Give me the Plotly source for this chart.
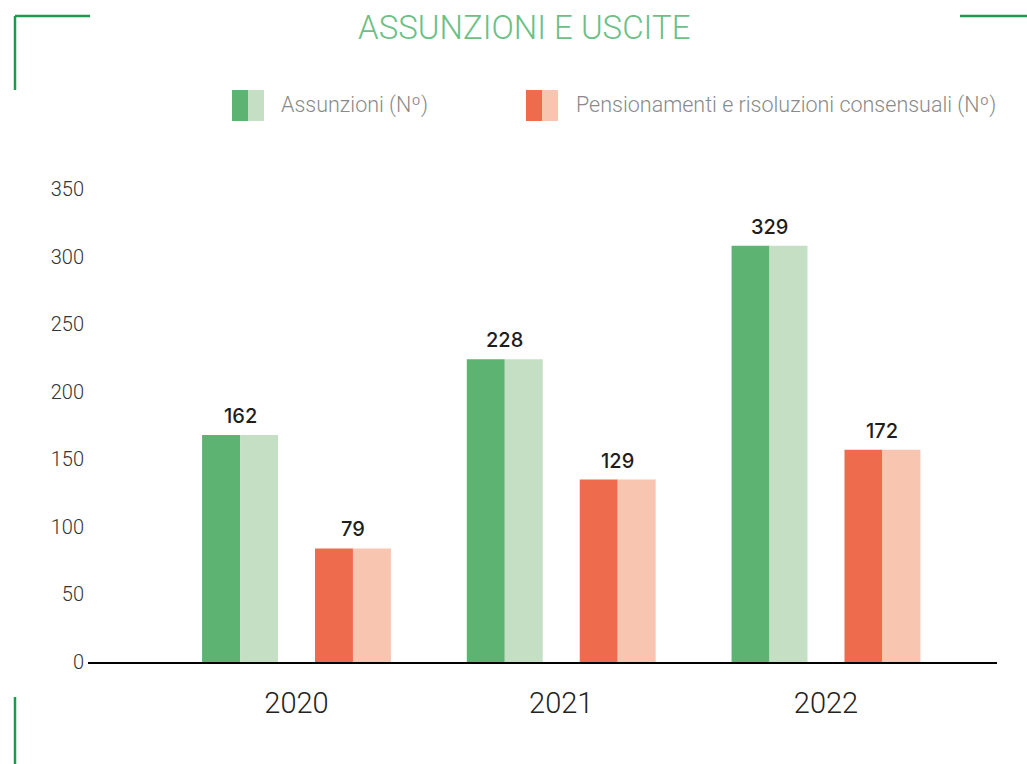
import plotly.graph_objects as go

# ---- data ----
years = ["2020", "2021", "2022"]
assunzioni_heights = [168, 224, 308]
assunzioni_labels = ["162", "228", "329"]
uscite_heights = [84, 135, 157]
uscite_labels = ["79", "129", "172"]
y_ticks = [0, 50, 100, 150, 200, 250, 300, 350]
title_text = "ASSUNZIONI E USCITE"
legend_names = ["Assunzioni (Nº)", "Pensionamenti e risoluzioni consensuali (Nº)"]

# ---- style ----
W, H = 1027, 764
ML, MR, MT, MB = 88, 30, 189, 102
PW, PH = W - ML - MR, H - MT - MB

G_DARK, G_LIGHT = "#5db371", "#c5dfc5"
R_DARK, R_LIGHT = "#ee6c4d", "#f8c5b1"
TITLE_C = "#6cc086"
CORNER_C = "#1f9a4c"
TEXT_FONT = "Roboto"


def px_x(px):
    return (px - ML) / PW


def px_y(py):
    return (H - MB - py) / PH


half_w = 0.1434
G_OFF, R_OFF = -0.3566, 0.0699

fig = go.Figure()
for heights, off, c1, c2, name in [(assunzioni_heights, G_OFF, G_DARK, G_LIGHT, legend_names[0]),
                                   (uscite_heights, R_OFF, R_DARK, R_LIGHT, legend_names[1])]:
    fig.add_trace(go.Bar(x=years, y=heights, width=[half_w] * 3, offset=off,
                         marker=dict(color=c1, line=dict(width=0)),
                         name=name, showlegend=False, hoverinfo="skip"))
    fig.add_trace(go.Bar(x=years, y=heights, width=[half_w] * 3, offset=off + half_w,
                         marker=dict(color=c2, line=dict(width=0)),
                         showlegend=False, hoverinfo="skip"))

annotations = []
# value labels above each pair of bars
for heights, labels, off in [(assunzioni_heights, assunzioni_labels, G_OFF),
                             (uscite_heights, uscite_labels, R_OFF)]:
    for i, (h, lab) in enumerate(zip(heights, labels)):
        annotations.append(dict(text=lab, xref="x", yref="y", x=i + off + half_w, y=h,
                                xanchor="center", yanchor="bottom", yshift=5, showarrow=False,
                                font=dict(family="Inter", size=20, color="#1e1e1e", weight=500)))

shapes = []
# corner decorations
for (x0, y0, x1, y1) in [(15, 16, 90, 16), (15, 16, 15, 90), (960, 16, 1027, 16), (15, 697, 15, 764)]:
    shapes.append(dict(type="line", xref="paper", yref="paper",
                       x0=px_x(x0), y0=px_y(y0), x1=px_x(x1), y1=px_y(y1),
                       line=dict(color=CORNER_C, width=2.5)))
# legend swatches
for (xs, c1, c2) in [(232, G_DARK, G_LIGHT), (526, R_DARK, R_LIGHT)]:
    shapes.append(dict(type="rect", xref="paper", yref="paper", x0=px_x(xs), x1=px_x(xs + 16),
                       y0=px_y(121), y1=px_y(90), fillcolor=c1, line=dict(width=0)))
    shapes.append(dict(type="rect", xref="paper", yref="paper", x0=px_x(xs + 16), x1=px_x(xs + 32),
                       y0=px_y(121), y1=px_y(90), fillcolor=c2, line=dict(width=0)))

annotations += [
    dict(text=title_text, xref="paper", yref="paper", x=px_x(524), y=px_y(28),
         xanchor="center", yanchor="middle", showarrow=False,
         font=dict(family=TEXT_FONT, size=33, color=TITLE_C, weight=300)),
    dict(text=legend_names[0], xref="paper", yref="paper", x=px_x(279), y=px_y(105),
         xanchor="left", yanchor="middle", showarrow=False,
         font=dict(family=TEXT_FONT, size=21.5, color="#8a8a8a", weight=300)),
    dict(text=legend_names[1], xref="paper", yref="paper", x=px_x(574), y=px_y(105),
         xanchor="left", yanchor="middle", showarrow=False,
         font=dict(family=TEXT_FONT, size=21.5, color="#8a8a8a", weight=300)),
]

fig.update_layout(
    width=W, height=H,
    margin=dict(l=ML, r=MR, t=MT, b=MB, pad=0),
    paper_bgcolor="white", plot_bgcolor="white",
    barmode="overlay", showlegend=False,
    shapes=shapes, annotations=annotations,
    xaxis=dict(type="category", range=[-0.7875, 2.646], showgrid=False, zeroline=False,
               showline=True, linecolor="#000000", linewidth=2, ticks="",
               ticklabelstandoff=14,
               tickfont=dict(family=TEXT_FONT, size=29, color="#222222", weight=300)),
    yaxis=dict(range=[0, 350], tickvals=y_ticks, showgrid=False, zeroline=False,
               showline=False, ticks="", ticklabelstandoff=3,
               tickfont=dict(family=TEXT_FONT, size=20, color="#333333", weight=300)),
)

fig.write_html("out.html", config={"displayModeBar": False},
               post_script="document.body.style.margin='0';")
